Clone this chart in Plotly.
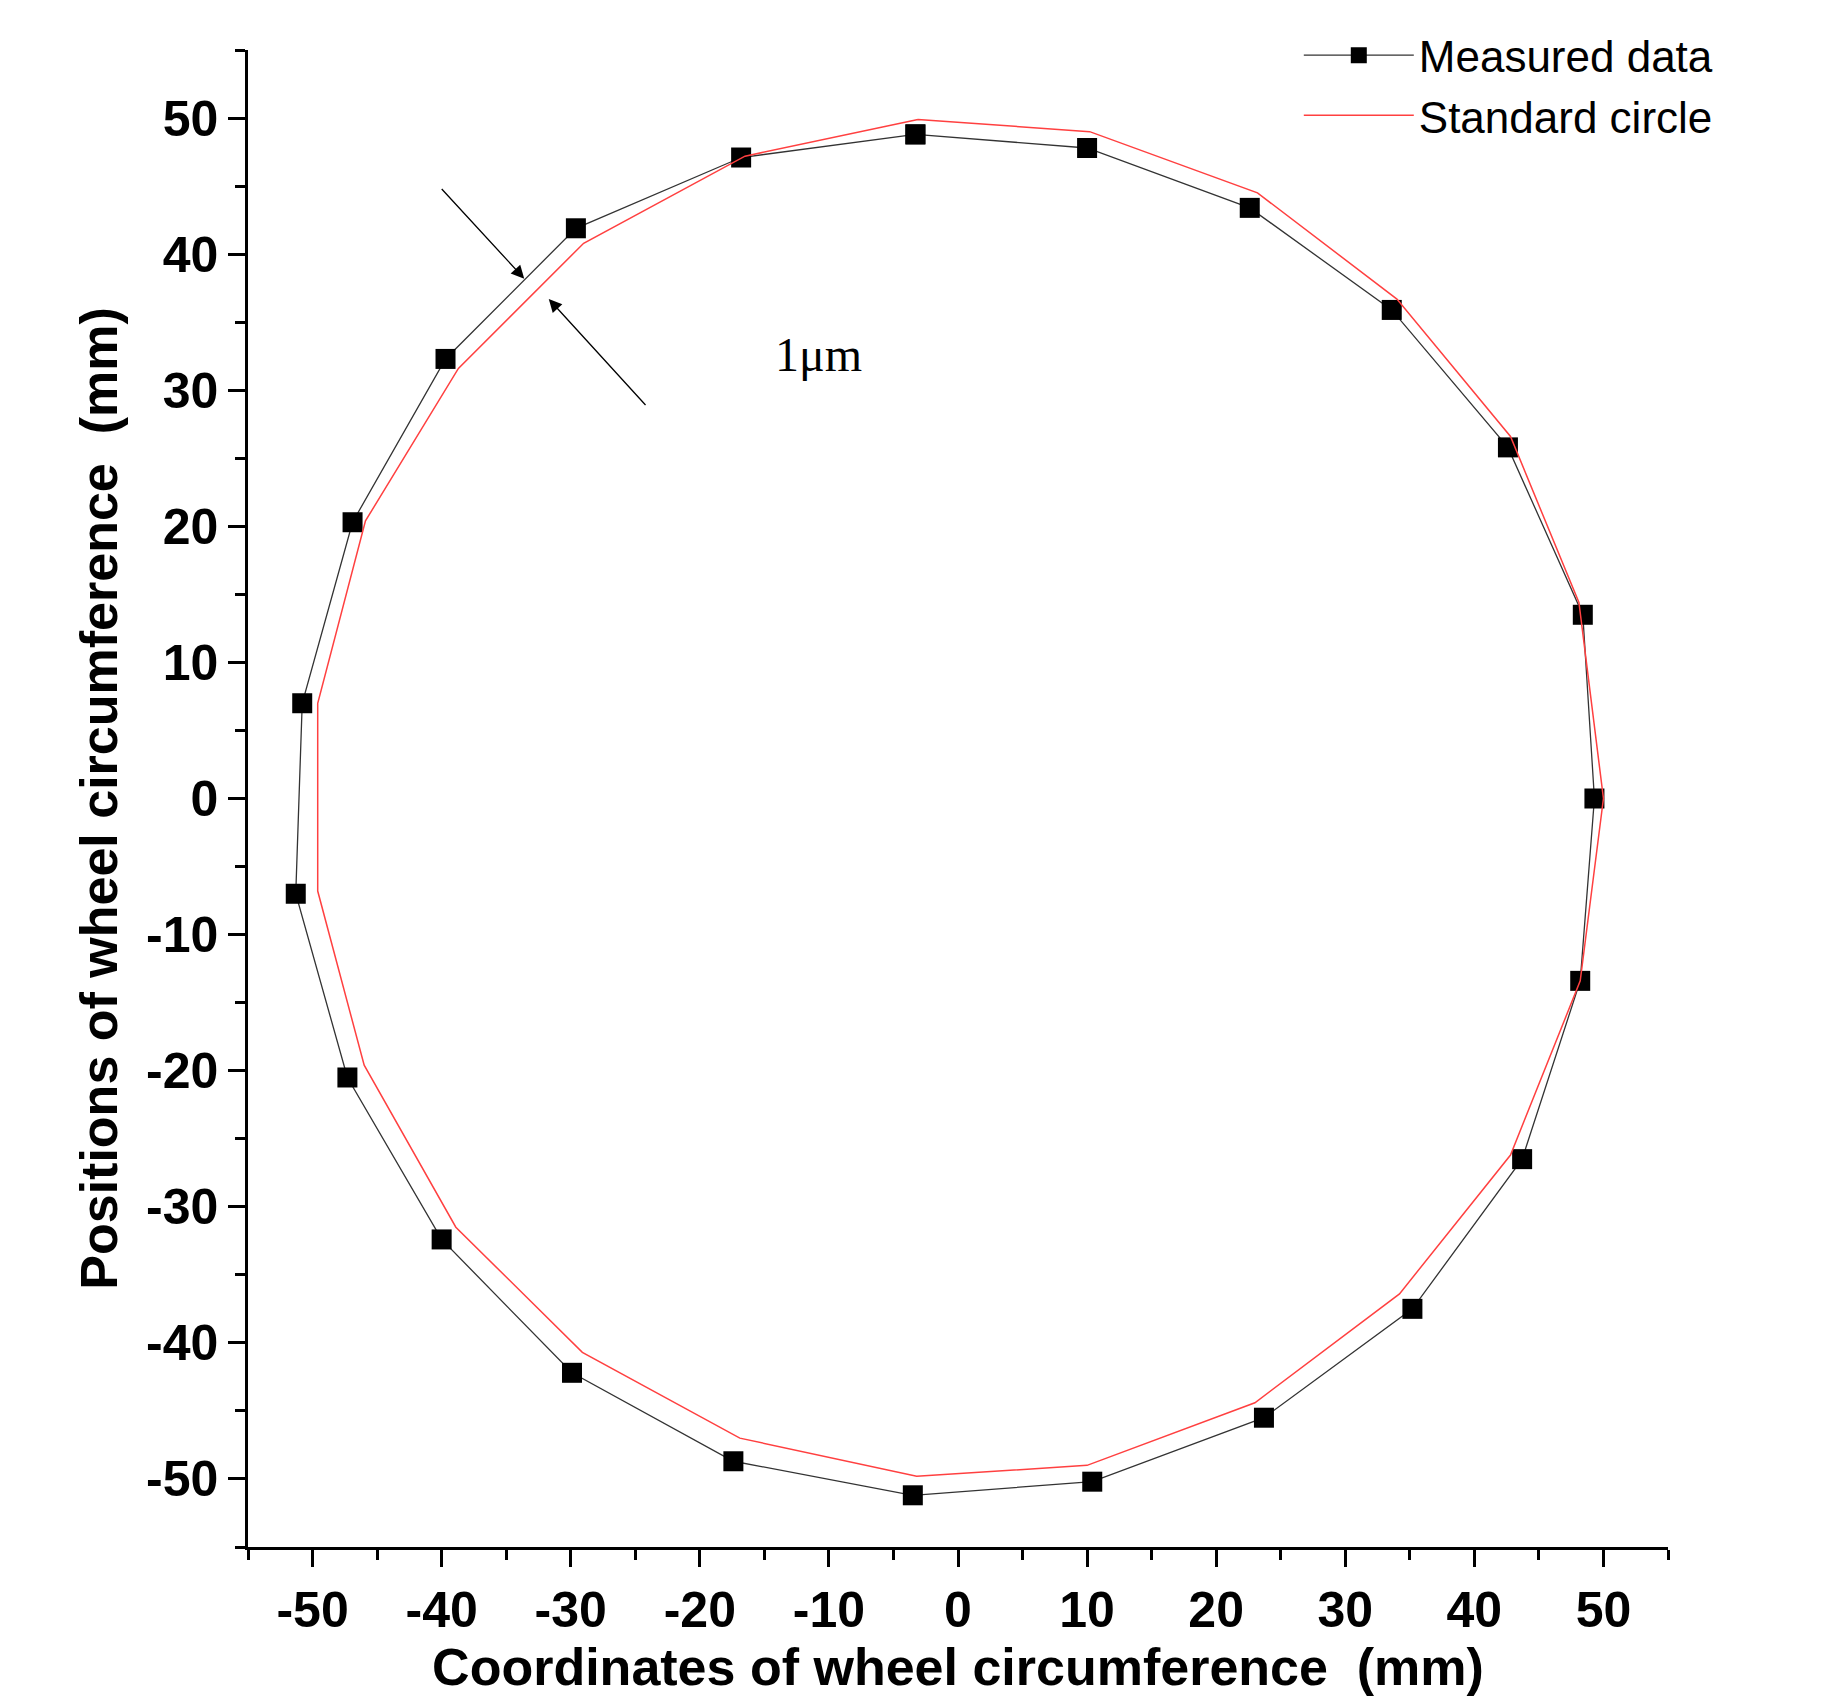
import plotly.graph_objects as go

meas_x = [-3.3, 10.0, 22.6, 33.6, 42.6, 48.4, 49.3, 48.2, 43.7, 35.2, 23.7, 10.4, -3.5, -17.4, -29.9, -40.0, -47.3, -51.3, -50.8, -46.9, -39.7, -29.6, -16.8, -3.3]
meas_y = [48.8, 47.8, 43.4, 35.9, 25.8, 13.5, 0.0, -13.4, -26.5, -37.5, -45.5, -50.2, -51.2, -48.7, -42.2, -32.4, -20.5, -7.0, 7.0, 20.3, 32.3, 41.9, 47.1, 48.8]
std_x = [-3.1, 10.2, 23.2, 34.0, 42.8, 48.1, 50.0, 48.2, 42.8, 34.2, 23.0, 10.0, -3.2, -16.9, -29.1, -38.9, -46.0, -49.6, -49.6, -45.9, -38.7, -29.0, -16.5, -3.1]
std_y = [49.9, 49.0, 44.5, 36.7, 26.6, 14.4, 0.0, -13.4, -26.2, -36.4, -44.4, -49.0, -49.8, -47.0, -40.7, -31.5, -19.6, -6.8, 7.0, 20.4, 31.6, 40.8, 47.2, 49.9]
tick_vals = [-50, -40, -30, -20, -10, 0, 10, 20, 30, 40, 50]
tick_text = ["-50", "-40", "-30", "-20", "-10", "0", "10", "20", "30", "40", "50"]

fig = go.Figure()
fig.add_trace(go.Scatter(x=meas_x, y=meas_y, mode="lines+markers", name="Measured data",
                         line=dict(color="#333333", width=1.3),
                         marker=dict(symbol="square", size=20, color="black")))
fig.add_trace(go.Scatter(x=std_x, y=std_y, mode="lines", name="Standard circle",
                         line=dict(color="#ff4040", width=1.5)))

axis_common = dict(range=[-55, 55], tickvals=tick_vals, ticktext=tick_text, showgrid=False, zeroline=False,
                   showline=True, linecolor="black", linewidth=2.5,
                   ticks="outside", ticklen=17, tickwidth=2.5, tickcolor="black",
                   minor=dict(dtick=5, ticks="outside", ticklen=10, tickwidth=2.5, tickcolor="black"),
                   tickfont=dict(family="Liberation Sans", size=50, color="black", weight="bold"))

fig.update_layout(
    width=1840, height=1700, plot_bgcolor="white", paper_bgcolor="white",
    margin=dict(l=240, r=180, t=26, b=161),
    xaxis=dict(**axis_common, title=dict(text="Coordinates of wheel circumference  (mm)",
               font=dict(family="Liberation Sans", size=52, color="black", weight="bold"), standoff=2)),
    yaxis=dict(**axis_common, title=dict(text="Positions of wheel circumference  (mm)",
               font=dict(family="Liberation Sans", size=52, color="black", weight="bold"), standoff=12)),
    legend=dict(x=0.74, y=1.02, xanchor="left", yanchor="top", bgcolor="rgba(0,0,0,0)",
                font=dict(family="Liberation Sans", size=44, color="black"), itemwidth=110),
    showlegend=True,
)
fig.add_annotation(x=-33.6, y=38.2, ax=-40.1, ay=44.9, xref="x", yref="y", axref="x", ayref="y",
                   showarrow=True, arrowhead=2, arrowsize=2, arrowwidth=1.3, arrowcolor="black", text="")
fig.add_annotation(x=-31.7, y=36.7, ax=-24.1, ay=28.8, xref="x", yref="y", axref="x", ayref="y",
                   showarrow=True, arrowhead=2, arrowsize=2, arrowwidth=1.3, arrowcolor="black", text="")
fig.add_annotation(x=-10.8, y=32.6, xref="x", yref="y", text="1μm", showarrow=False,
                   font=dict(family="Liberation Serif", size=48, color="black"))
fig.write_html("out.html")
